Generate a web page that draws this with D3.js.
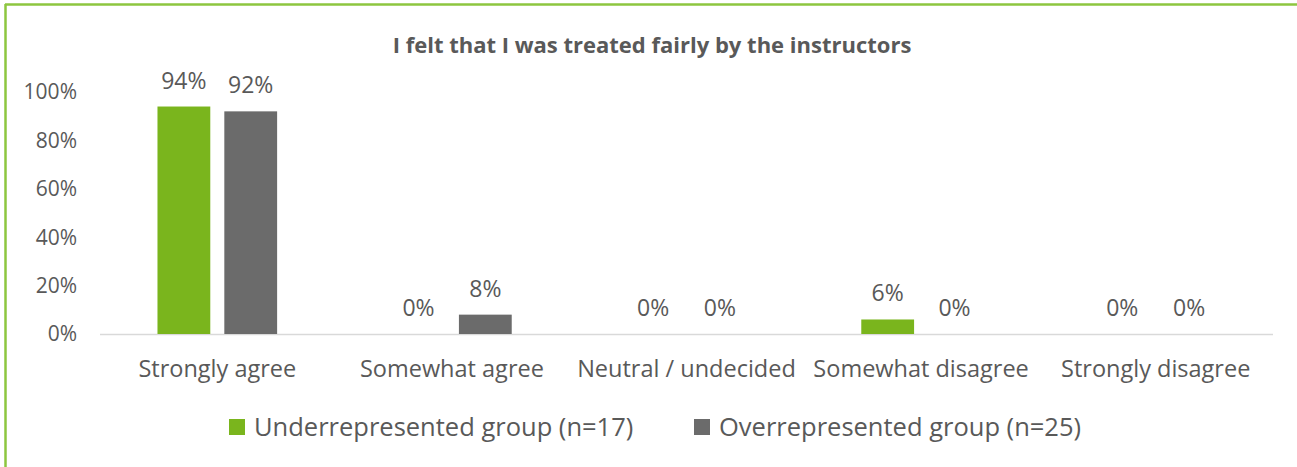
<!DOCTYPE html>
<html>
<head>
<meta charset="utf-8">
<script src="https://cdn.jsdelivr.net/npm/d3@7"></script>
<style>
  body { margin: 0; background: #fff; }
  text { font-family: "Open Sans", Lato, sans-serif; fill: #595959; }
</style>
</head>
<body>
<div id="chart"></div>
<script>
// Data
const categories = ["Strongly agree", "Somewhat agree", "Neutral / undecided", "Somewhat disagree", "Strongly disagree"];
const seriesNames = ["Underrepresented group (n=17)", "Overrepresented group (n=25)"];
const underValues = [94, 0, 0, 6, 0];
const overValues = [92, 8, 0, 0, 0];
const yTicks = [0, 20, 40, 60, 80, 100];
const colors = ["#7ab51d", "#6b6b6b"];

const W = 1297, H = 467;
const margin = {top: 92, right: 24, bottom: 133, left: 100};

const svg = d3.select("#chart")
  .append("svg")
  .attr("width", W)
  .attr("height", H);

// Frame (only top and left edges are visible in the crop)
svg.append("line")
  .attr("x1", 5).attr("x2", W).attr("y1", 4.5).attr("y2", 4.5)
  .attr("stroke", "#8dc63f").attr("stroke-width", 2.5);
svg.append("line")
  .attr("x1", 5.5).attr("x2", 5.5).attr("y1", 4).attr("y2", H)
  .attr("stroke", "#8dc63f").attr("stroke-width", 2.5);

// Scales
const x = d3.scaleBand()
  .domain(categories)
  .range([margin.left, W - margin.right])
  .paddingInner(0.49)
  .paddingOuter(0.245);
const xSub = d3.scaleBand()
  .domain([0, 1])
  .range([0, x.bandwidth()])
  .paddingInner(0.21);
const y = d3.scaleLinear()
  .domain([0, 100])
  .range([H - margin.bottom, margin.top]);

// Y axis labels
svg.append("g")
  .selectAll("text")
  .data(yTicks)
  .join("text")
  .attr("x", 77)
  .attr("y", d => y(d))
  .attr("dy", "0.35em")
  .attr("text-anchor", "end")
  .style("font-size", "21px")
  .text(d => d + "%");

// Baseline
svg.append("line")
  .attr("x1", margin.left)
  .attr("x2", W - margin.right)
  .attr("y1", y(0) + 0.5)
  .attr("y2", y(0) + 0.5)
  .attr("stroke", "#d9d9d9")
  .attr("stroke-width", 1.5);

// Bars
const series = [underValues, overValues];
series.forEach((vals, si) => {
  const g = svg.append("g");
  g.selectAll("rect")
    .data(vals)
    .join("rect")
    .attr("x", (d, i) => x(categories[i]) + xSub(si))
    .attr("y", d => y(d))
    .attr("width", xSub.bandwidth())
    .attr("height", d => y(0) - y(d))
    .attr("fill", colors[si]);
  g.selectAll("text")
    .data(vals)
    .join("text")
    .attr("x", (d, i) => x(categories[i]) + xSub(si) + xSub.bandwidth() / 2)
    .attr("y", d => y(d) - 18)
    .attr("text-anchor", "middle")
    .style("font-size", "23px")
    .text(d => d + "%");
});

// Category labels
svg.append("g")
  .selectAll("text")
  .data(categories)
  .join("text")
  .attr("x", d => x(d) + x.bandwidth() / 2)
  .attr("y", 377)
  .attr("text-anchor", "middle")
  .style("font-size", "23.5px")
  .text(d => d);

// Title
svg.append("text")
  .attr("x", 652)
  .attr("y", 53)
  .attr("text-anchor", "middle")
  .style("font-size", "22px")
  .style("font-weight", "bold")
  .text("I felt that I was treated fairly by the instructors");

// Legend
const legendX = [229, 694];
const lg = svg.append("g");
seriesNames.forEach((name, i) => {
  lg.append("rect")
    .attr("x", legendX[i])
    .attr("y", 419)
    .attr("width", 16)
    .attr("height", 16)
    .attr("fill", colors[i]);
  lg.append("text")
    .attr("x", legendX[i] + 25)
    .attr("y", 436)
    .style("font-size", "25.5px")
    .text(name);
});
</script>
</body>
</html>
